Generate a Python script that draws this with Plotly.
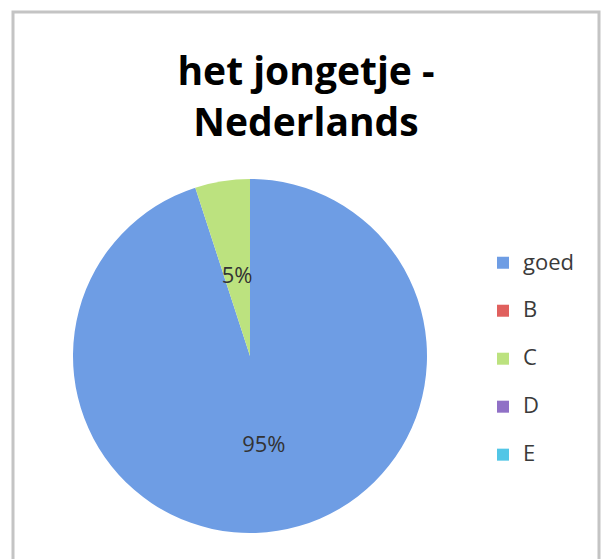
import plotly.graph_objects as go

categories = ["goed", "B", "C", "D", "E"]
values = [95, 0, 5, 0, 0]
colors = ["#6e9de4", "#e0605e", "#bce27f", "#9070c6", "#52c6e6"]
title_lines = ["het jongetje -", "Nederlands"]

W, H = 601, 559
CX, CY, R = 250, 356, 177  # pie centre / radius in pixels
R_LABEL = 96               # radius of the transparent label pie for narrow slices

legend_labels = [f"<span style='font-size:22px'>{c}</span><br> " for c in categories]
total = sum(values)
main_tpl = ["%{percent:.0%}" if v / total >= 0.5 else "" for v in values]
small_tpl = ["%{percent:.0%}" if 0 < v / total < 0.5 else "" for v in values]

common = dict(
    values=values,
    sort=False,
    direction="clockwise",
    rotation=0,
    textposition="inside",
    insidetextorientation="horizontal",
    textfont=dict(family="Open Sans", size=22, color="#333333"),
)

fig = go.Figure()
fig.add_trace(go.Pie(
    labels=legend_labels,
    marker=dict(colors=colors, line=dict(width=0)),
    texttemplate=main_tpl,
    domain=dict(x=[(CX - R) / W, (CX + R) / W], y=[1 - (CY + R) / H, 1 - (CY - R) / H]),
    hoverinfo="label+percent",
    **common,
))
fig.add_trace(go.Pie(
    labels=legend_labels,
    marker=dict(colors=["rgba(0,0,0,0)"] * len(values), line=dict(width=0)),
    texttemplate=small_tpl,
    domain=dict(x=[(CX - R_LABEL) / W, (CX + R_LABEL) / W],
                y=[1 - (CY + R_LABEL) / H, 1 - (CY - R_LABEL) / H]),
    showlegend=False,
    hoverinfo="skip",
    **common,
))

fig.update_layout(
    width=W, height=H,
    margin=dict(l=0, r=0, t=0, b=0),
    paper_bgcolor="white",
    plot_bgcolor="white",
    uniformtext=dict(mode="show", minsize=22),
    title=dict(
        text="<br>".join(title_lines),
        font=dict(family="Open Sans", size=39, color="#000000", weight=700),
        x=306 / W, xanchor="center",
        xref="paper", yref="container",
        y=1 - 85 / H, yanchor="top",
    ),
    legend=dict(
        x=483 / W, xanchor="left",
        y=1 - 245 / H, yanchor="top",
        font=dict(family="Open Sans", size=17.3, color="#3a3a3a"),
        valign="top",
        bgcolor="rgba(0,0,0,0)",
    ),
    shapes=[dict(
        type="rect", xref="paper", yref="paper",
        x0=13 / W, x1=599 / W, y0=-0.05, y1=1 - 12 / H,
        line=dict(color="#c4c4c4", width=3),
        fillcolor="rgba(0,0,0,0)",
    )],
)

fig.write_html("out.html", config={"displayModeBar": False},
               post_script="document.body.style.margin='0';")
